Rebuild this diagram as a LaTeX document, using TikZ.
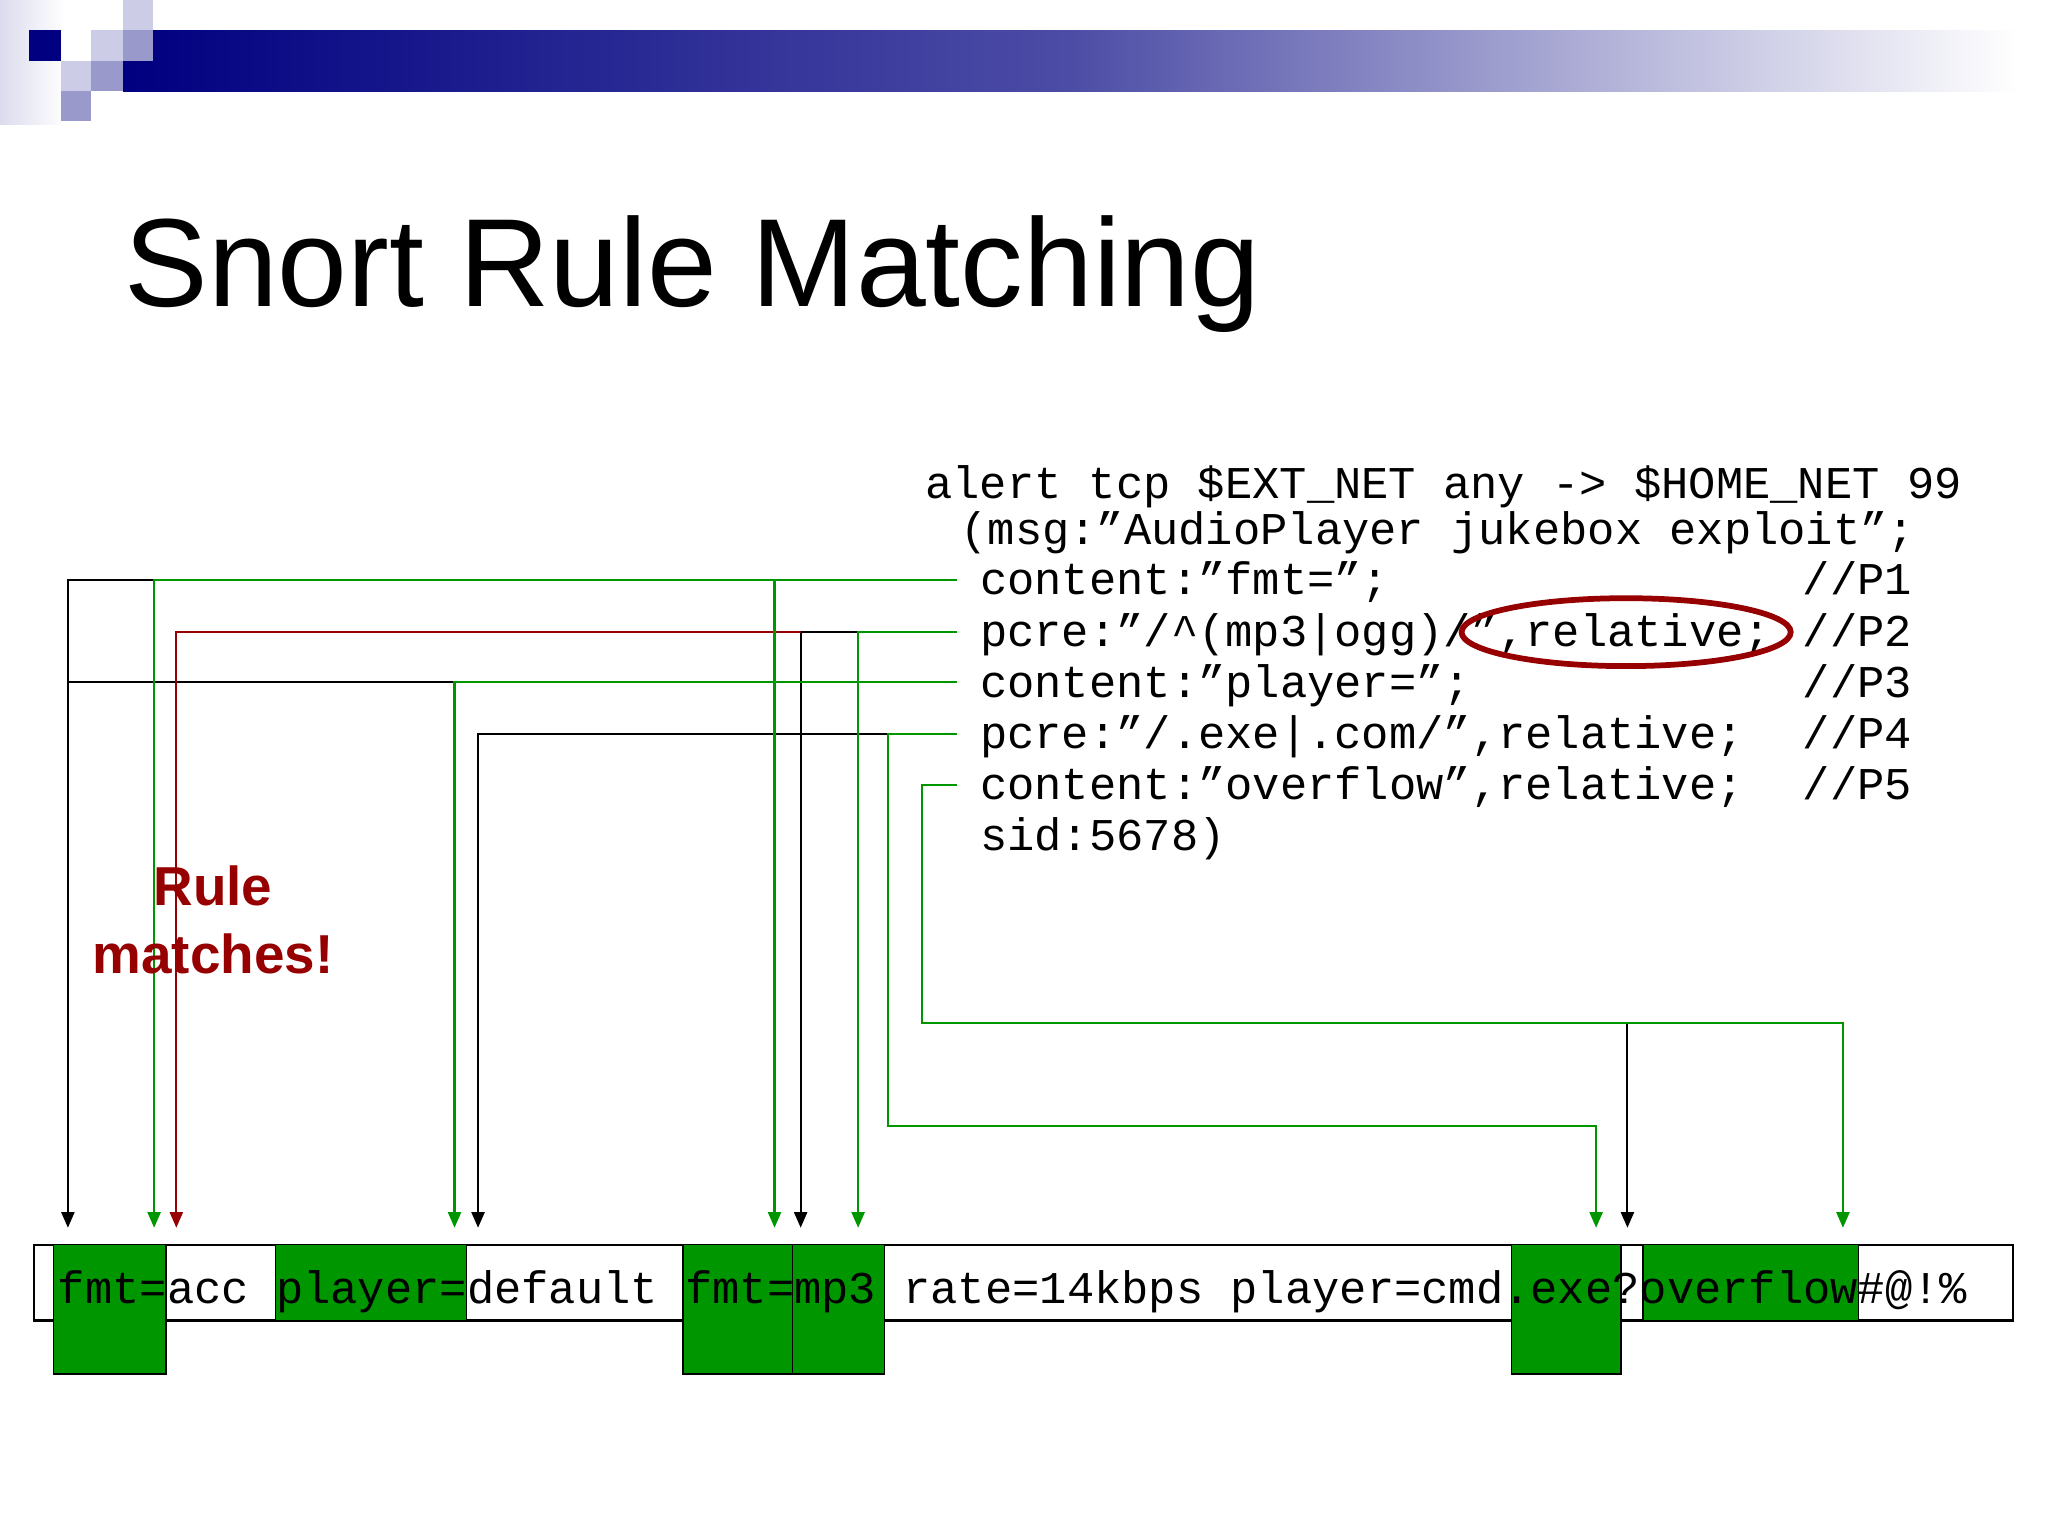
\documentclass[tikz,border=0pt]{standalone}
\usepackage{fontspec}
\setmainfont{Liberation Sans}
\newfontfamily\mono{Liberation Mono}
\usetikzlibrary{arrows.meta}
\definecolor{gr}{RGB}{0,150,0}
\definecolor{dred}{RGB}{150,0,0}
\definecolor{navy}{RGB}{0,0,128}
\definecolor{lt}{RGB}{204,204,230}
\definecolor{md}{RGB}{153,153,204}
\begin{document}
\begin{tikzpicture}[x=0.5pt,y=-0.5pt,
  rt/.style={anchor=base west,inner sep=0,font=\mono\fontsize{17.4}{20}\selectfont},
  gline/.style={gr,line width=0.8pt},
  bline/.style={black,line width=0.8pt},
  rline/.style={dred,line width=0.8pt},
  arr/.style={-{Triangle[length=6pt,width=5pt]}},
  gbox/.style={fill=gr,draw=black,line width=0.5pt}]
\useasboundingbox (0,0) rectangle (1568,1176);
% header
\shade[left color=lt!70,right color=white] (0,0) rectangle (50,95);
\shade[left color=navy,right color=white,middle color=navy!50!md] (94,23) rectangle (1545,70);
\fill[lt] (94,0) rectangle (117,23);
\fill[navy] (22,23) rectangle (47,47);
\fill[lt] (70,23) rectangle (94,47);
\fill[md] (94,23) rectangle (117,47);
\fill[lt] (47,47) rectangle (70,70);
\fill[md] (70,47) rectangle (94,70);
\fill[md] (47,70) rectangle (94,93);
\fill[white] (70,70) rectangle (94,93);
\node[anchor=base west,inner sep=0,font=\fontsize{48}{54}\selectfont] (title) at (95,235) {Snort Rule Matching};
% rule text
\node[rt] (l0) at (708,382) {alert tcp \$EXT\_NET any -> \$HOME\_NET 99};
\node[rt] (l1) at (735,417) {(msg:”AudioPlayer jukebox exploit”;};
\node[rt] (l2) at (750,455) {content:”fmt=”;};
\node[rt] (l3) at (750,495) {pcre:”/\textasciicircum(mp3|ogg)/”,relative;};
\node[rt] (l4) at (750,534) {content:”player=”;};
\node[rt] (l5) at (750,573) {pcre:”/.exe|.com/”,relative;};
\node[rt] (l6) at (750,612) {content:”overflow”,relative;};
\node[rt] (l7) at (750,651) {sid:5678)};
\node[rt] (p1) at (1380,455) {//P1};
\node[rt] (p2) at (1380,495) {//P2};
\node[rt] (p3) at (1380,534) {//P3};
\node[rt] (p4) at (1380,573) {//P4};
\node[rt] (p5) at (1380,612) {//P5};
\draw[dred,line width=2.2pt] (1245,484) ellipse [x radius=126,y radius=26];
% bottom strip
\draw[line width=0.8pt] (26,953) rectangle (1541,1011);
\draw[gbox] (41,953) rectangle (127,1052);
\draw[gbox] (211,953) rectangle (357,1011);
\draw[gbox] (523,953) rectangle (607,1052);
\draw[gbox] (607,953) rectangle (677,1052);
\draw[gbox] (1157,953) rectangle (1241,1052);
\draw[gbox] (1258,953) rectangle (1423,1011);
\node[anchor=base west,inner sep=0,font=\mono\fontsize{17.4}{20}\selectfont] (data) at (44,998) {fmt=acc player=default fmt=mp3 rate=14kbps player=cmd.exe?overflow\#@!\%};
% coordinates
\coordinate (e1) at (733,444);
\coordinate (e2) at (733,484);
\coordinate (e3) at (733,522);
\coordinate (e4) at (733,562);
\coordinate (e5) at (733,601);
% black lines
\draw[bline,arr] (118,444) -- (52,444) -- (52,940);
\draw[bline] (348,522) -- (52,522);
\draw[bline,arr] (657,484) -- (613,484) -- (613,940);
\draw[bline,arr] (680,562) -- (366,562) -- (366,940);
\draw[bline,arr] (1246,783) -- (1246,940);
% red
\draw[rline,arr] (613,484) -- (135,484) -- (135,940);
% green
\draw[gline,arr] (e1) -- (118,444) -- (118,940);
\draw[gline,arr] (593,444) -- (593,940);
\draw[gline,arr] (e2) -- (657,484) -- (657,940);
\draw[gline,arr] (e3) -- (348,522) -- (348,940);
\draw[gline,arr] (e4) -- (680,562) -- (680,862) -- (1222,862) -- (1222,940);
\draw[gline,arr] (e5) -- (706,601) -- (706,783) -- (1411,783) -- (1411,940);
% label
\node[align=center,text=dred,font=\bfseries\fontsize{21}{26}\selectfont,inner sep=0] (match) at (163,704) {Rule\\matches!};
\end{tikzpicture}
\end{document}
